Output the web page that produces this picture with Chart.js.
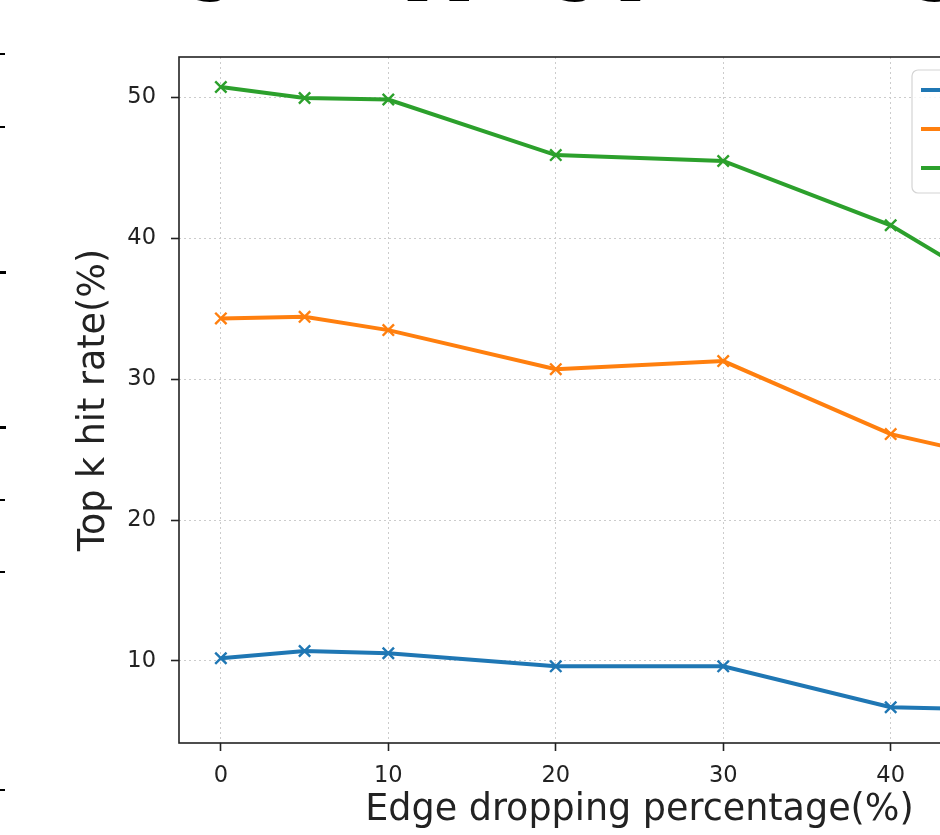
<!DOCTYPE html>
<html>
<head>
<meta charset="utf-8">
<script src="https://cdn.jsdelivr.net/npm/chart.js@4.4.1/dist/chart.umd.min.js"></script>
<style>
html, body { margin: 0; padding: 0; background: #ffffff; }
#frame { position: relative; width: 940px; height: 835px; overflow: hidden; background: #ffffff; }
#c { position: absolute; left: 0; top: -100px; }
.edge { position: absolute; left: 0; width: 5px; height: 2px; background: #000; }
.edge.b { height: 3px; width: 6px; }
</style>
</head>
<body>
<div id="frame">
  <canvas id="c" width="1140" height="935"></canvas>
  <div class="edge" style="top:53px"></div>
  <div class="edge" style="top:126px"></div>
  <div class="edge b" style="top:271px"></div>
  <div class="edge b" style="top:426px"></div>
  <div class="edge" style="top:499px"></div>
  <div class="edge" style="top:571px"></div>
  <div class="edge" style="top:789px"></div>
</div>
<script>
// ---- data ----
const xValues = [0, 5, 10, 20, 30, 40, 50];
const seriesLabels = ['Top 1', 'Top 5', 'Top 10'];
const blueValues = [10.19, 10.71, 10.55, 9.62, 9.62, 6.72, 6.45];
const orangeValues = [34.31, 34.42, 33.48, 30.71, 31.28, 26.1, 23.4];
const greenValues = [50.73, 49.95, 49.84, 45.9, 45.48, 40.92, 33.8];
const xTicks = [0, 10, 20, 30, 40, 50];
const yTicks = [10, 20, 30, 40, 50];
const titleText = 'Edge dropping percentage';
const xTitle = 'Edge dropping percentage(%)';
const yTitle = 'Top k hit rate(%)';

const colors = ['#1f77b4', '#ff7f0e', '#2ca02c'];
const seriesValues = [blueValues, orangeValues, greenValues];

const datasets = seriesValues.map((vals, i) => ({
  label: seriesLabels[i],
  data: xValues.map((x, j) => ({ x: x, y: vals[j] })),
  borderColor: colors[i],
  backgroundColor: colors[i],
  borderWidth: 4,
  pointStyle: 'crossRot',
  pointRadius: 8,
  pointBorderWidth: 2.4,
  pointBorderColor: colors[i],
  pointHoverRadius: 8,
  tension: 0,
  fill: false
}));

const frameAndLegend = {
  id: 'frameAndLegend',
  afterDatasetsDraw(chart) {
    const { ctx, chartArea: a } = chart;
    ctx.save();
    // legend (upper right, inside axes)
    const left = a.right - 188, top = a.top + 13, w = 176, h = 123, r = 6;
    ctx.beginPath();
    ctx.moveTo(left + r, top);
    ctx.arcTo(left + w, top, left + w, top + h, r);
    ctx.arcTo(left + w, top + h, left, top + h, r);
    ctx.arcTo(left, top + h, left, top, r);
    ctx.arcTo(left, top, left + w, top, r);
    ctx.closePath();
    ctx.fillStyle = 'rgba(255,255,255,0.8)';
    ctx.fill();
    ctx.strokeStyle = '#d4d4d4';
    ctx.lineWidth = 1.2;
    ctx.stroke();
    ctx.font = '22px "DejaVu Sans"';
    ctx.textBaseline = 'middle';
    chart.data.datasets.forEach((ds, i) => {
      const y = top + 20 + i * 39;
      ctx.strokeStyle = ds.borderColor;
      ctx.lineWidth = 4;
      ctx.beginPath();
      ctx.moveTo(left + 9, y);
      ctx.lineTo(left + 49, y);
      ctx.stroke();
      ctx.fillStyle = '#222';
      ctx.fillText(ds.label, left + 62, y);
    });
    // axes frame
    ctx.strokeStyle = '#222';
    ctx.lineWidth = 1.6;
    ctx.strokeRect(a.left, a.top, a.right - a.left, a.bottom - a.top);
    ctx.restore();
  }
};

new Chart(document.getElementById('c'), {
  type: 'line',
  data: { datasets },
  options: {
    responsive: false,
    animation: false,
    devicePixelRatio: 1,
    layout: { padding: { top: 0, left: 0, right: 40, bottom: 0 } },
    plugins: {
      legend: { display: false },
      tooltip: { enabled: false },
      title: {
        display: true,
        text: titleText,
        color: '#000',
        font: { family: '"DejaVu Serif"', size: 60, weight: 'bold', lineHeight: 1 },
        padding: { top: 43, bottom: 54 }
      }
    },
    scales: {
      x: {
        type: 'linear',
        min: -2.5,
        max: 52.5,
        afterFit: (s) => { s.height = 92; },
        afterBuildTicks: (s) => { s.ticks = xTicks.map(v => ({ value: v })); },
        ticks: { stepSize: 10, includeBounds: false, color: '#222', padding: 12,
                 font: { family: '"DejaVu Sans"', size: 22.5 } },
        grid: { color: '#cccccc', lineWidth: 1, tickLength: 8, tickColor: '#222', tickWidth: 1.6, tickBorderDash: [] },
        border: { display: false, dash: [2, 3] },
        title: { display: true, text: xTitle, color: '#222',
                 font: { family: '"DejaVu Sans"', size: 36.5, lineHeight: 1.2 },
                 padding: { top: 0, bottom: 3 } }
      },
      y: {
        type: 'linear',
        min: 4.18,
        max: 52.86,
        afterFit: (s) => { s.width = 179; },
        afterBuildTicks: (s) => { s.ticks = yTicks.map(v => ({ value: v })); },
        ticks: { stepSize: 10, includeBounds: false, color: '#222', padding: 15,
                 font: { family: '"DejaVu Sans"', size: 22.5 } },
        grid: { color: '#cccccc', lineWidth: 1, tickLength: 8, tickColor: '#222', tickWidth: 1.6, tickBorderDash: [] },
        border: { display: false, dash: [2, 3] },
        title: { display: true, text: yTitle, color: '#222',
                 font: { family: '"DejaVu Sans"', size: 36.5, lineHeight: 1.2 },
                 padding: { top: 73, bottom: 0 } }
      }
    }
  },
  plugins: [frameAndLegend]
});
</script>
</body>
</html>
